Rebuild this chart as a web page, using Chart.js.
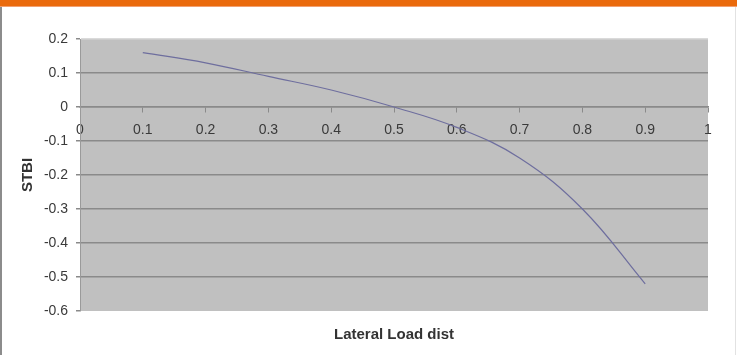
<!DOCTYPE html>
<html>
<head>
<meta charset="utf-8">
<script src="https://cdn.jsdelivr.net/npm/chart.js@4.4.1/dist/chart.umd.min.js"></script>
<style>
  html, body { margin: 0; padding: 0; background: #ffffff; }
  #wrap { position: relative; width: 737px; height: 355px; overflow: hidden; background: #ffffff; }
  #topbar { position: absolute; left: 0; top: 0; width: 737px; height: 6px; background: #ea6a0c; border-bottom: 1px solid #f2a070; z-index: 2; }
  #edgeL { position: absolute; left: 0; top: 7px; width: 2px; height: 348px; background: #8c8c8c; z-index: 2; }
  #edgeR { position: absolute; left: 735px; top: 7px; width: 1px; height: 348px; background: #e2e2e2; z-index: 2; }
  canvas { position: absolute; left: 0; top: 0; }
</style>
</head>
<body>
<div id="wrap">
  <div id="topbar"></div>
  <div id="edgeL"></div>
  <div id="edgeR"></div>
  <canvas id="c" width="737" height="355"></canvas>
</div>
<script>
// Lateral load distribution vs. STBI
const loadDist = [0.1, 0.2, 0.3, 0.4, 0.5, 0.6, 0.7, 0.8, 0.9];
const stbi     = [0.16, 0.13, 0.09, 0.05, 0.0, -0.06, -0.15, -0.30, -0.52];

const xTicks = { min: 0, max: 1, step: 0.1 };
const yTicks = { min: -0.6, max: 0.2, step: 0.1 };

const xTitle = 'Lateral Load dist';
const yTitle = 'STBI';

const points = loadDist.map((x, i) => ({ x: x, y: stbi[i] }));

const FONT = '"Liberation Sans", Arial, Helvetica, sans-serif';

// Shortest decimal form: 0, 0.1, ..., 1
const fmt = v => String(Number(v.toFixed(1)));

// Grey plotting area behind the grid
const plotBackground = {
  id: 'plotBackground',
  beforeDraw(chart) {
    const { ctx, chartArea: a } = chart;
    ctx.save();
    ctx.fillStyle = '#c0c0c0';
    ctx.fillRect(a.left, a.top, a.right - a.left, a.bottom - a.top);
    ctx.restore();
  }
};

new Chart(document.getElementById('c'), {
  type: 'line',
  data: {
    datasets: [{
      data: points,
      borderColor: '#6e6e9e',
      borderWidth: 1.2,
      pointRadius: 0,
      tension: 0.4,
      fill: false
    }]
  },
  options: {
    responsive: false,
    animation: false,
    events: [],
    layout: { padding: { left: 0, top: 39, right: 29, bottom: 0 } },
    plugins: {
      legend: { display: false },
      tooltip: { enabled: false },
      title: {
        display: true,
        text: xTitle,
        position: 'bottom',
        fullSize: false,
        color: '#333333',
        font: { family: FONT, size: 15, weight: 'bold' },
        padding: { top: 15, bottom: 11 }
      }
    },
    scales: {
      x: {
        type: 'linear',
        position: { y: 0 },
        min: xTicks.min,
        max: xTicks.max,
        ticks: {
          stepSize: xTicks.step,
          callback: v => fmt(v),
          color: '#3a3a3a',
          font: { family: FONT, size: 14 },
          padding: 10,
          maxRotation: 0
        },
        grid: {
          drawOnChartArea: false,
          drawTicks: true,
          tickLength: 5,
          tickColor: '#8a8a8a'
        },
        border: { display: true, color: '#8a8a8a', width: 1.5 }
      },
      y: {
        type: 'linear',
        position: 'left',
        min: yTicks.min,
        max: yTicks.max,
        afterFit(scale) { scale.width = 80; },
        ticks: {
          stepSize: yTicks.step,
          callback: v => fmt(v),
          color: '#3a3a3a',
          font: { family: FONT, size: 14 },
          padding: 8
        },
        grid: {
          color(ctx) {
            const v = ctx.tick ? Math.round(ctx.tick.value * 10) / 10 : null;
            if (v === yTicks.max) return '#dadada';
            if (v === yTicks.min) return 'rgba(0,0,0,0)';
            return '#8a8a8a';
          },
          lineWidth: 1.5,
          tickLength: 4,
          tickColor: '#8a8a8a'
        },
        border: { display: true, color: '#9a9a9a', width: 1 },
        title: {
          display: true,
          text: yTitle,
          color: '#333333',
          font: { family: FONT, size: 15, weight: 'bold' },
          padding: { top: 19, bottom: 0 }
        }
      }
    }
  },
  plugins: [plotBackground]
});
</script>
</body>
</html>
